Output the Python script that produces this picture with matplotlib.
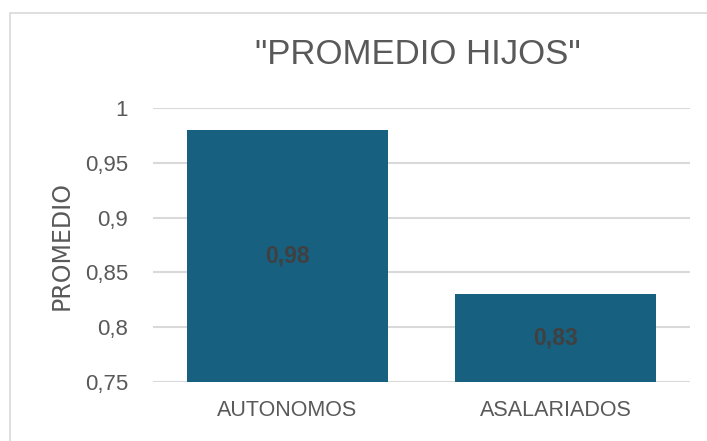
import matplotlib.pyplot as plt
from matplotlib.patches import Rectangle

categories = ["AUTONOMOS", "ASALARIADOS"]
values = [0.98, 0.83]
labels = ["0,98", "0,83"]
yticks = [0.75, 0.8, 0.85, 0.9, 0.95, 1.0]
ytick_labels = ["0,75", "0,8", "0,85", "0,9", "0,95", "1"]

narrow = ["Liberation Sans", "DejaVu Sans"]
grey = "#595959"

fig = plt.figure(figsize=(7.07, 4.41), dpi=100)
ax = fig.add_axes([153 / 707, 1 - 382 / 441, (690 - 153) / 707, (382 - 108) / 441])

# outer chart border
fig.add_artist(Rectangle((10 / 707, -0.1), 1.2, 1 - 13 / 441 + 0.1,
                         transform=fig.transFigure, fill=False,
                         edgecolor="#d9d9d9", linewidth=1.2))

x = range(len(categories))
ax.bar(x, values, width=0.75, color="#17607f", zorder=2)
for i, (v, lab) in enumerate(zip(values, labels)):
    ax.text(i, (v + 0.75) / 2, lab, ha="center", va="center",
            fontsize=16.5, fontweight="bold", color="#404040", family=narrow, zorder=3)

ax.set_ylim(0.75, 1.0)
ax.set_xlim(-0.5, 1.5)
ax.set_yticks(yticks)
ax.set_yticklabels(ytick_labels, family=narrow, fontsize=16, color=grey)
ax.set_xticks(list(x))
ax.set_xticklabels(categories, family=narrow, fontsize=15.5, color=grey)
ax.tick_params(axis="y", length=0, pad=18)
ax.tick_params(axis="x", length=0, pad=13)
ax.yaxis.grid(True, color="#d9d9d9", linewidth=1.5, zorder=0)
for s in ax.spines.values():
    s.set_visible(False)

fig.text(62 / 707, 1 - 245 / 441, "PROMEDIO", rotation=90, ha="center", va="center",
         fontsize=17, color=grey)
fig.text(418 / 707, 1 - 55 / 441, '"PROMEDIO HIJOS"', ha="center", va="center",
         fontsize=25, color=grey, family=narrow)

fig.savefig("out.png", dpi=100)
